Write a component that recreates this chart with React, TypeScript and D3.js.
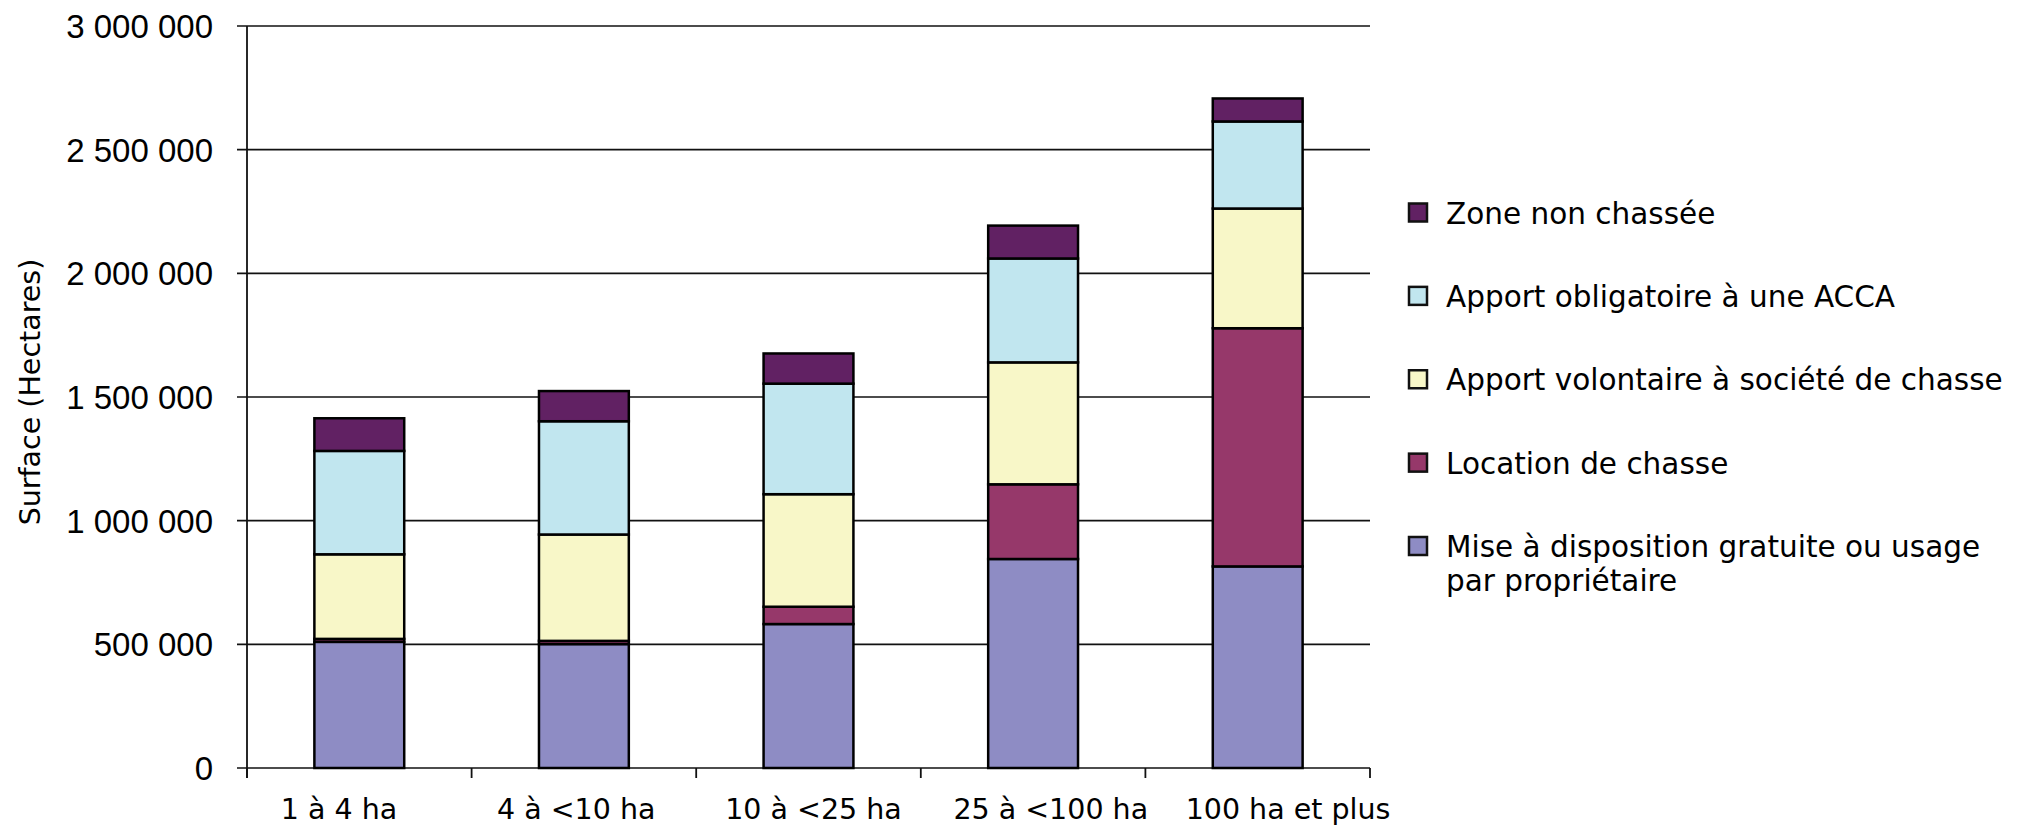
import React from "react";
import * as d3 from "d3";

const categories = ["1 à 4 ha", "4 à <10 ha", "10 à <25 ha", "25 à <100 ha", "100 ha et plus"];
const miseADisposition = [510000, 501000, 582000, 845000, 815000];
const locationChasse = [12000, 13000, 70000, 302000, 963000];
const apportVolontaire = [342000, 430000, 455000, 493000, 484000];
const apportObligatoire = [418000, 458000, 447000, 420000, 352000];
const zoneNonChassee = [132000, 122000, 122000, 133000, 93000];
const yTicks = [0, 500000, 1000000, 1500000, 2000000, 2500000, 3000000];

const seriesKeys = ["mise", "location", "volontaire", "obligatoire", "zone"];
const seriesValues = [miseADisposition, locationChasse, apportVolontaire, apportObligatoire, zoneNonChassee];
const seriesColors = ["#8e8cc4", "#96386a", "#f8f7c8", "#c1e6ef", "#612163"];
const legendKeys = ["zone", "obligatoire", "volontaire", "location", "mise"];
const legendLabels = [
  ["Zone non chassée"],
  ["Apport obligatoire à une ACCA"],
  ["Apport volontaire à société de chasse"],
  ["Location de chasse"],
  ["Mise à disposition gratuite ou usage", "par propriétaire"],
];
const yTitle = "Surface (Hectares)";

const W = 2031;
const H = 829;
const plot = { left: 247, right: 1370, top: 26, bottom: 768 };

export default function App() {
  const rows = categories.map((c, i) => {
    const r: any = { category: c };
    seriesKeys.forEach((k, j) => (r[k] = seriesValues[j][i]));
    return r;
  });
  const stacked = d3.stack().keys(seriesKeys)(rows);

  const x = d3
    .scaleBand()
    .domain(categories)
    .range([plot.left, plot.right])
    .paddingInner(0.6)
    .paddingOuter(0.3);
  const xLabel = d3.scalePoint().domain(categories).range([339, 1288]);
  const y = d3.scaleLinear().domain([0, 3000000]).range([plot.bottom, plot.top]);
  const color = d3.scaleOrdinal<string, string>().domain(seriesKeys).range(seriesColors);
  const fmt = d3.formatLocale({ decimal: ",", thousands: " ", grouping: [3], currency: ["", ""] }).format(",");

  const step = x.step();
  const boundaries = d3.range(categories.length + 1).map((i) => plot.left + i * step);

  const legendY = d3.scalePoint().domain(legendKeys).range([212.5, 546]);

  const arial = "'Liberation Sans', Arial, sans-serif";
  const dejavu = "'DejaVu Sans', sans-serif";

  return (
    <svg width={W} height={H} style={{ position: "absolute", left: 0, top: 0, background: "#fff" }}>
      <rect x={0} y={0} width={W} height={H} fill="#fff" />
      {/* gridlines */}
      {yTicks.map((t) => (
        <line key={t} x1={237} x2={plot.right} y1={y(t)} y2={y(t)} stroke="#111" strokeWidth={1.6} />
      ))}
      {/* y axis */}
      <line x1={plot.left} x2={plot.left} y1={plot.top} y2={plot.bottom + 10} stroke="#111" strokeWidth={1.8} />
      {/* x ticks */}
      {boundaries.map((b, i) => (
        <line key={i} x1={b} x2={b} y1={plot.bottom} y2={plot.bottom + 10} stroke="#111" strokeWidth={1.8} />
      ))}
      {/* y tick labels */}
      {yTicks.map((t) => (
        <text key={t} x={213} y={y(t)} dy="0.36em" textAnchor="end" fontFamily={arial} fontSize={33} fill="#000">
          {fmt(t)}
        </text>
      ))}
      {/* y title */}
      <text
        transform={`translate(40, 392) rotate(-90)`}
        textAnchor="middle"
        fontFamily={dejavu}
        fontSize={28.5}
        fill="#000"
      >
        {yTitle}
      </text>
      {/* bars */}
      {stacked.map((s) => (
        <g key={s.key}>
          {s.map((d, i) => (
            <rect
              key={i}
              x={x(categories[i])}
              width={x.bandwidth()}
              y={y(d[1])}
              height={y(d[0]) - y(d[1])}
              fill={color(s.key)}
              stroke="#000"
              strokeWidth={2.5}
            />
          ))}
        </g>
      ))}
      {/* x labels */}
      {categories.map((c) => (
        <text key={c} x={xLabel(c)} y={819} textAnchor="middle" fontFamily={dejavu} fontSize={28.5} fill="#000">
          {c}
        </text>
      ))}
      {/* legend */}
      {legendKeys.map((k, i) => (
        <g key={k}>
          <rect
            x={1409}
            y={(legendY(k) as number) - 9}
            width={18}
            height={18}
            fill={color(k)}
            stroke="#111"
            strokeWidth={2.5}
          />
          {legendLabels[i].map((line, j) => (
            <text
              key={j}
              x={1446}
              y={(legendY(k) as number) + 11 + j * 34}
              fontFamily={dejavu}
              fontSize={29.5}
              fill="#000"
            >
              {line}
            </text>
          ))}
        </g>
      ))}
    </svg>
  );
}
